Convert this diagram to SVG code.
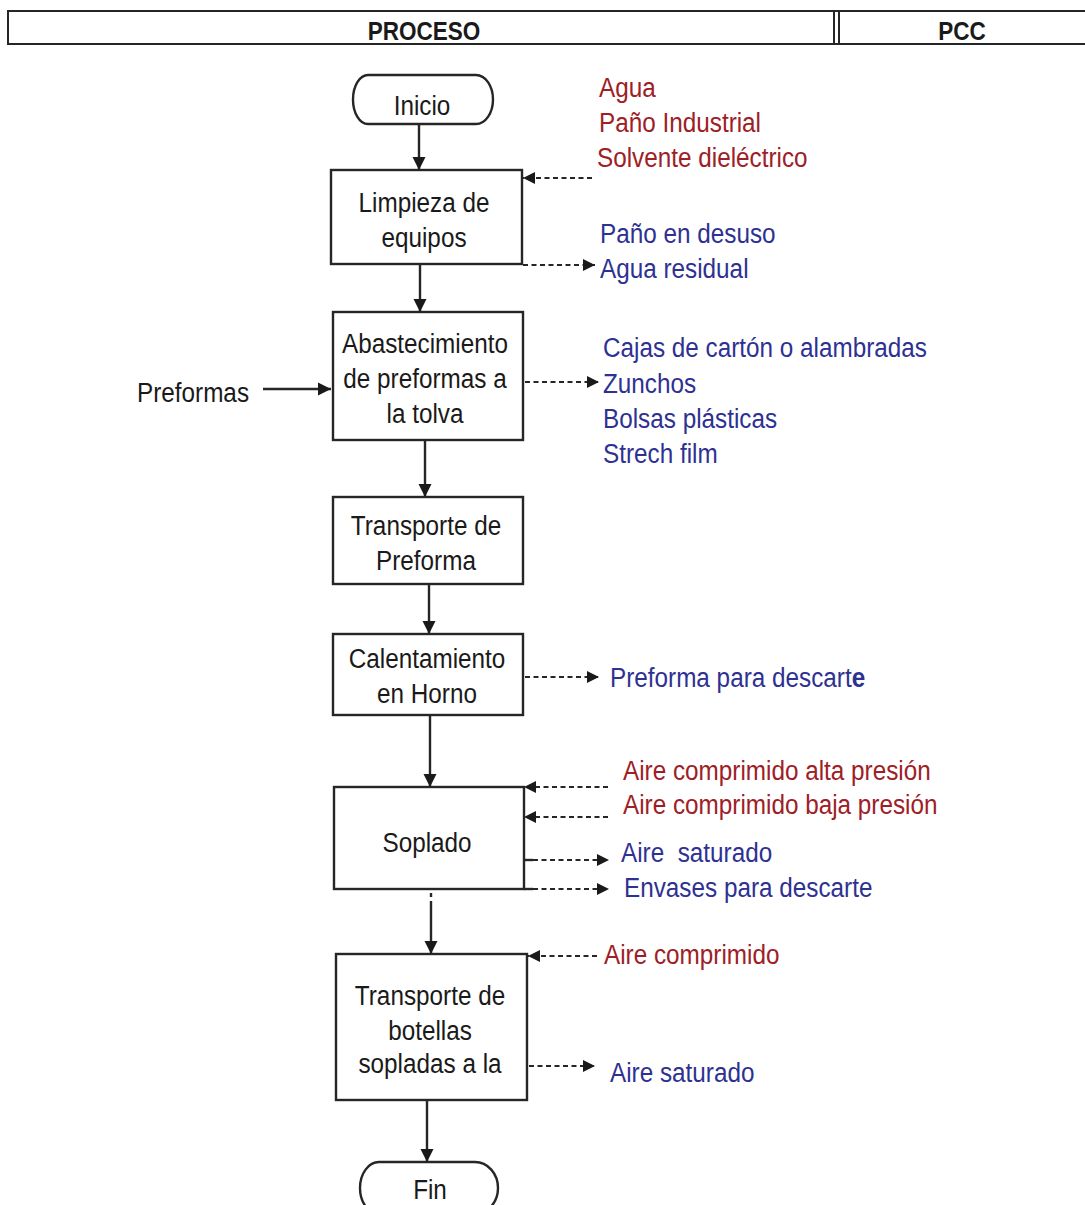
<svg xmlns="http://www.w3.org/2000/svg" width="1085" height="1205" viewBox="0 0 1085 1205">
  <style>
    .bg { fill: #ffffff; }
    .box { fill: #ffffff; stroke: #262626; stroke-width: 2.4; }
    .hdr { fill: #ffffff; stroke: #262626; stroke-width: 2; }
    .flow { fill: none; stroke: #262626; stroke-width: 2.4; }
    .dash { fill: none; stroke: #262626; stroke-width: 2.2; stroke-dasharray: 5 3.5; }
    text { font-family: "Liberation Sans", Arial, sans-serif; font-size: 27px; }
    .t { fill: #1a1a1a; text-anchor: middle; }
    .lbl { fill: #1a1a1a; }
    .in { fill: #9e2026; }
    .out { fill: #2e3192; }
    .head { font-weight: bold; font-size: 25px; fill: #1a1a1a; text-anchor: middle; }
  </style>
  <defs>
    <marker id="arrow" markerUnits="userSpaceOnUse" markerWidth="14" markerHeight="14" refX="13" refY="7" orient="auto">
      <path d="M0,0.5 L13,7 L0,13.5 Z" fill="#1a1a1a"/>
    </marker>
    <marker id="arrowSmall" markerUnits="userSpaceOnUse" markerWidth="13" markerHeight="13" refX="12" refY="6.5" orient="auto">
      <path d="M0,0.5 L12,6.5 L0,12.5 Z" fill="#1a1a1a"/>
    </marker>
  </defs>

  <rect class="bg" x="0" y="0" width="1085" height="1205"/>

  <!-- column header -->
  <g id="header">
    <rect class="hdr" x="8" y="11" width="1090" height="33"/>
    <line x1="834" y1="11" x2="834" y2="44" stroke="#262626" stroke-width="2"/>
    <line x1="839" y1="11" x2="839" y2="44" stroke="#262626" stroke-width="2"/>
    <text class="head" transform="translate(424,40) scale(0.9,1)">PROCESO</text>
    <text class="head" transform="translate(962,40) scale(0.9,1)">PCC</text>
  </g>

  <!-- process nodes -->
  <g id="inicio">
    <path class="box" d="M368,75 H476 A17,24.5 0 0 1 476,124 H368 A15,24.5 0 0 1 368,75 Z"/>
    <text class="t" transform="translate(422,115) scale(0.9,1)">Inicio</text>
  </g>

  <g id="limpieza">
    <rect class="box" x="331" y="170" width="191" height="94"/>
    <text class="t" transform="translate(424,212) scale(0.9,1)">Limpieza de</text>
    <text class="t" transform="translate(424,247) scale(0.9,1)">equipos</text>
  </g>

  <g id="abastecimiento">
    <rect class="box" x="333" y="312" width="190" height="128"/>
    <text class="t" transform="translate(425,353) scale(0.9,1)">Abastecimiento</text>
    <text class="t" transform="translate(425,388) scale(0.9,1)">de preformas a</text>
    <text class="t" transform="translate(425,423) scale(0.9,1)">la tolva</text>
  </g>

  <g id="transporte-preforma">
    <rect class="box" x="333" y="497" width="190" height="87"/>
    <text class="t" transform="translate(426,535) scale(0.9,1)">Transporte de</text>
    <text class="t" transform="translate(426,570) scale(0.9,1)">Preforma</text>
  </g>

  <g id="calentamiento">
    <rect class="box" x="333" y="634" width="190" height="81"/>
    <text class="t" transform="translate(427,668) scale(0.9,1)">Calentamiento</text>
    <text class="t" transform="translate(427,703) scale(0.9,1)">en Horno</text>
  </g>

  <g id="soplado">
    <rect class="box" x="334" y="787" width="190" height="102"/>
    <text class="t" transform="translate(427,852) scale(0.9,1)">Soplado</text>
  </g>

  <g id="transporte-botellas">
    <rect class="box" x="336" y="954" width="191" height="146"/>
    <text class="t" transform="translate(430,1005) scale(0.9,1)">Transporte de</text>
    <text class="t" transform="translate(430,1040) scale(0.9,1)">botellas</text>
    <text class="t" transform="translate(430,1073) scale(0.9,1)">sopladas a la</text>
  </g>

  <g id="fin">
    <path class="box" d="M379,1162 H475 A23,26 0 0 1 498,1188 A23,26 0 0 1 475,1214 H379 A19,26 0 0 1 360,1188 A19,26 0 0 1 379,1162 Z"/>
    <text class="t" transform="translate(430,1199) scale(0.9,1)">Fin</text>
  </g>

  <!-- inputs and outputs -->
  <g id="preformas-input">
    <text class="lbl" transform="translate(137,402) scale(0.9,1)">Preformas</text>
  </g>

  <g id="limpieza-io">
    <text class="in" transform="translate(599,97) scale(0.9,1)">Agua</text>
    <text class="in" transform="translate(599,132) scale(0.9,1)">Paño Industrial</text>
    <text class="in" transform="translate(597,167) scale(0.9,1)">Solvente dieléctrico</text>
    <text class="out" transform="translate(600,243) scale(0.9,1)">Paño en desuso</text>
    <text class="out" transform="translate(600,278) scale(0.9,1)">Agua residual</text>
  </g>

  <g id="abastecimiento-io">
    <text class="out" transform="translate(603,357) scale(0.9,1)">Cajas de cartón o alambradas</text>
    <text class="out" transform="translate(603,393) scale(0.9,1)">Zunchos</text>
    <text class="out" transform="translate(603,428) scale(0.9,1)">Bolsas plásticas</text>
    <text class="out" transform="translate(603,463) scale(0.9,1)">Strech film</text>
  </g>

  <g id="calentamiento-io">
    <text class="out" transform="translate(610,687) scale(0.9,1)">Preforma para descart<tspan font-weight="bold">e</tspan></text>
  </g>

  <g id="soplado-io">
    <text class="in" transform="translate(623,780) scale(0.9,1)">Aire comprimido alta presión</text>
    <text class="in" transform="translate(623,814) scale(0.9,1)">Aire comprimido baja presión</text>
    <text class="out" transform="translate(621,862) scale(0.9,1)" xml:space="preserve">Aire  saturado</text>
    <text class="out" transform="translate(624,897) scale(0.9,1)">Envases para descarte</text>
  </g>

  <g id="transporte-botellas-io">
    <text class="in" transform="translate(604,964) scale(0.9,1)">Aire comprimido</text>
    <text class="out" transform="translate(610,1082) scale(0.9,1)">Aire saturado</text>
  </g>

  <!-- connectors -->
  <g id="connectors">
    <!-- main flow -->
    <line class="flow" x1="419" y1="124" x2="419" y2="170" marker-end="url(#arrow)"/>
    <line class="flow" x1="420" y1="264" x2="420" y2="312" marker-end="url(#arrow)"/>
    <line class="flow" x1="425" y1="440" x2="425" y2="497" marker-end="url(#arrow)"/>
    <line class="flow" x1="429" y1="584" x2="429" y2="634" marker-end="url(#arrow)"/>
    <line class="flow" x1="430" y1="715" x2="430" y2="787" marker-end="url(#arrow)"/>
    <line class="flow" x1="431" y1="893" x2="431" y2="897"/>
    <line class="flow" x1="431" y1="901" x2="431" y2="954" marker-end="url(#arrow)"/>
    <line class="flow" x1="427" y1="1100" x2="427" y2="1162" marker-end="url(#arrow)"/>
    <line class="flow" x1="263" y1="389" x2="331" y2="389" marker-end="url(#arrow)"/>

    <!-- limpieza -->
    <line class="dash" x1="592" y1="178" x2="523" y2="178" marker-end="url(#arrowSmall)"/>
    <line class="dash" x1="523" y1="265" x2="595" y2="265" marker-end="url(#arrowSmall)"/>
    <!-- abastecimiento -->
    <line class="dash" x1="525" y1="382" x2="599" y2="382" marker-end="url(#arrowSmall)"/>
    <!-- calentamiento -->
    <line class="dash" x1="525" y1="677" x2="599" y2="677" marker-end="url(#arrowSmall)"/>
    <!-- soplado -->
    <line class="dash" x1="608" y1="787" x2="524" y2="787" marker-end="url(#arrowSmall)"/>
    <line class="dash" x1="608" y1="817" x2="524" y2="817" marker-end="url(#arrowSmall)"/>
    <line class="flow" x1="524" y1="860" x2="533" y2="860"/>
    <line class="dash" x1="533" y1="860" x2="609" y2="860" marker-end="url(#arrowSmall)"/>
    <line class="flow" x1="524" y1="889" x2="533" y2="889"/>
    <line class="dash" x1="533" y1="889" x2="609" y2="889" marker-end="url(#arrowSmall)"/>
    <!-- transporte de botellas -->
    <line class="dash" x1="597" y1="956" x2="528" y2="956" marker-end="url(#arrowSmall)"/>
    <line class="dash" x1="529" y1="1066" x2="595" y2="1066" marker-end="url(#arrowSmall)"/>
  </g>
</svg>
